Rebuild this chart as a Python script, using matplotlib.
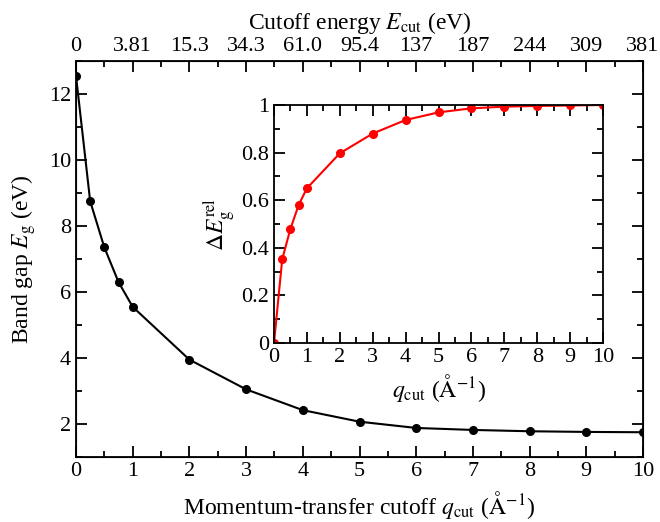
import matplotlib
matplotlib.use("Agg")
import matplotlib.pyplot as plt
from matplotlib.ticker import MultipleLocator

plt.rcParams['font.family'] = ['Liberation Serif', 'DejaVu Serif']
plt.rcParams['mathtext.fontset'] = 'stix'
plt.rcParams['font.size'] = 16

# data
q_cut = [0, 0.25, 0.5, 0.75, 1, 2, 3, 4, 5, 6, 7, 8, 9, 10]
band_gap = [12.55, 8.75, 7.35, 6.3, 5.55, 3.95, 3.05, 2.42, 2.07, 1.88, 1.82, 1.78, 1.76, 1.75]
dE_rel = [0.0, 0.352, 0.48, 0.58, 0.65, 0.797, 0.88, 0.937, 0.969, 0.986, 0.993, 0.996, 0.998, 1.0]
top_ticks = [0, 1, 2, 3, 4, 5, 6, 7, 8, 9, 10]
top_labels = ["0", "3.81", "15.3", "34.3", "61.0", "95.4", "137", "187", "244", "309", "381"]

fig = plt.figure(figsize=(6.6, 5.22), dpi=100)
W, H = 660, 522

def px_axes(l, t, r, b):
    return fig.add_axes([l / W, 1 - b / H, (r - l) / W, (b - t) / H])

ax = px_axes(76, 61, 643, 457)
ax.plot(q_cut, band_gap, color='black', lw=1.5, marker='o', ms=5.5)
ax.set_xlim(0, 10)
ax.set_ylim(1, 13)
ax.xaxis.set_major_locator(MultipleLocator(1))
ax.xaxis.set_minor_locator(MultipleLocator(0.5))
ax.yaxis.set_major_locator(MultipleLocator(2))
ax.yaxis.set_minor_locator(MultipleLocator(1))
ax.tick_params(which='both', direction='in', right=True, labelsize=16, width=1.3)
ax.tick_params(which='major', length=8)
ax.tick_params(which='minor', length=4)
ax.tick_params(axis='x', which='both', top=False)
ax.set_xlabel(r'Momentum-transfer cutoff $q_{\rm cut}$ ($\rm\AA^{-1}$)', fontsize=17, labelpad=6)
ax.set_ylabel(r'Band gap $E_{\rm g}$ (eV)', fontsize=17, labelpad=8)
for s in ax.spines.values():
    s.set_linewidth(1.3)

ax2 = ax.twiny()
ax2.set_xlim(0, 10)
ax2.set_xticks(top_ticks)
ax2.set_xticklabels(top_labels)
ax2.xaxis.set_minor_locator(MultipleLocator(0.5))
ax2.tick_params(which='both', direction='in', labelsize=16, width=1.3)
ax2.tick_params(which='major', length=8)
ax2.tick_params(which='minor', length=4)
ax2.set_xlabel(r'Cutoff energy $E_{\rm cut}$ (eV)', fontsize=17, labelpad=6)

ins = px_axes(274, 105, 603, 343)
ins.plot(q_cut, dE_rel, color='red', lw=1.5, marker='o', ms=5.5)
ins.set_xlim(0, 10)
ins.set_ylim(0, 1)
ins.xaxis.set_major_locator(MultipleLocator(1))
ins.xaxis.set_minor_locator(MultipleLocator(0.5))
ins.yaxis.set_minor_locator(MultipleLocator(0.1))
ins.set_yticks([0, 0.2, 0.4, 0.6, 0.8, 1])
ins.set_yticklabels(["0", "0.2", "0.4", "0.6", "0.8", "1"])
ins.tick_params(which='both', direction='in', top=True, right=True, labelsize=16, width=1.3)
ins.tick_params(which='major', length=8)
ins.tick_params(which='minor', length=4)
ins.set_xlabel(r'$q_{\rm cut}$ ($\rm\AA^{-1}$)', fontsize=17)
ins.set_ylabel(r'$\Delta E_{\rm g}^{\rm rel}$', fontsize=17, labelpad=2)
for s in ins.spines.values():
    s.set_linewidth(1.3)

fig.savefig('out.png', dpi=100)
